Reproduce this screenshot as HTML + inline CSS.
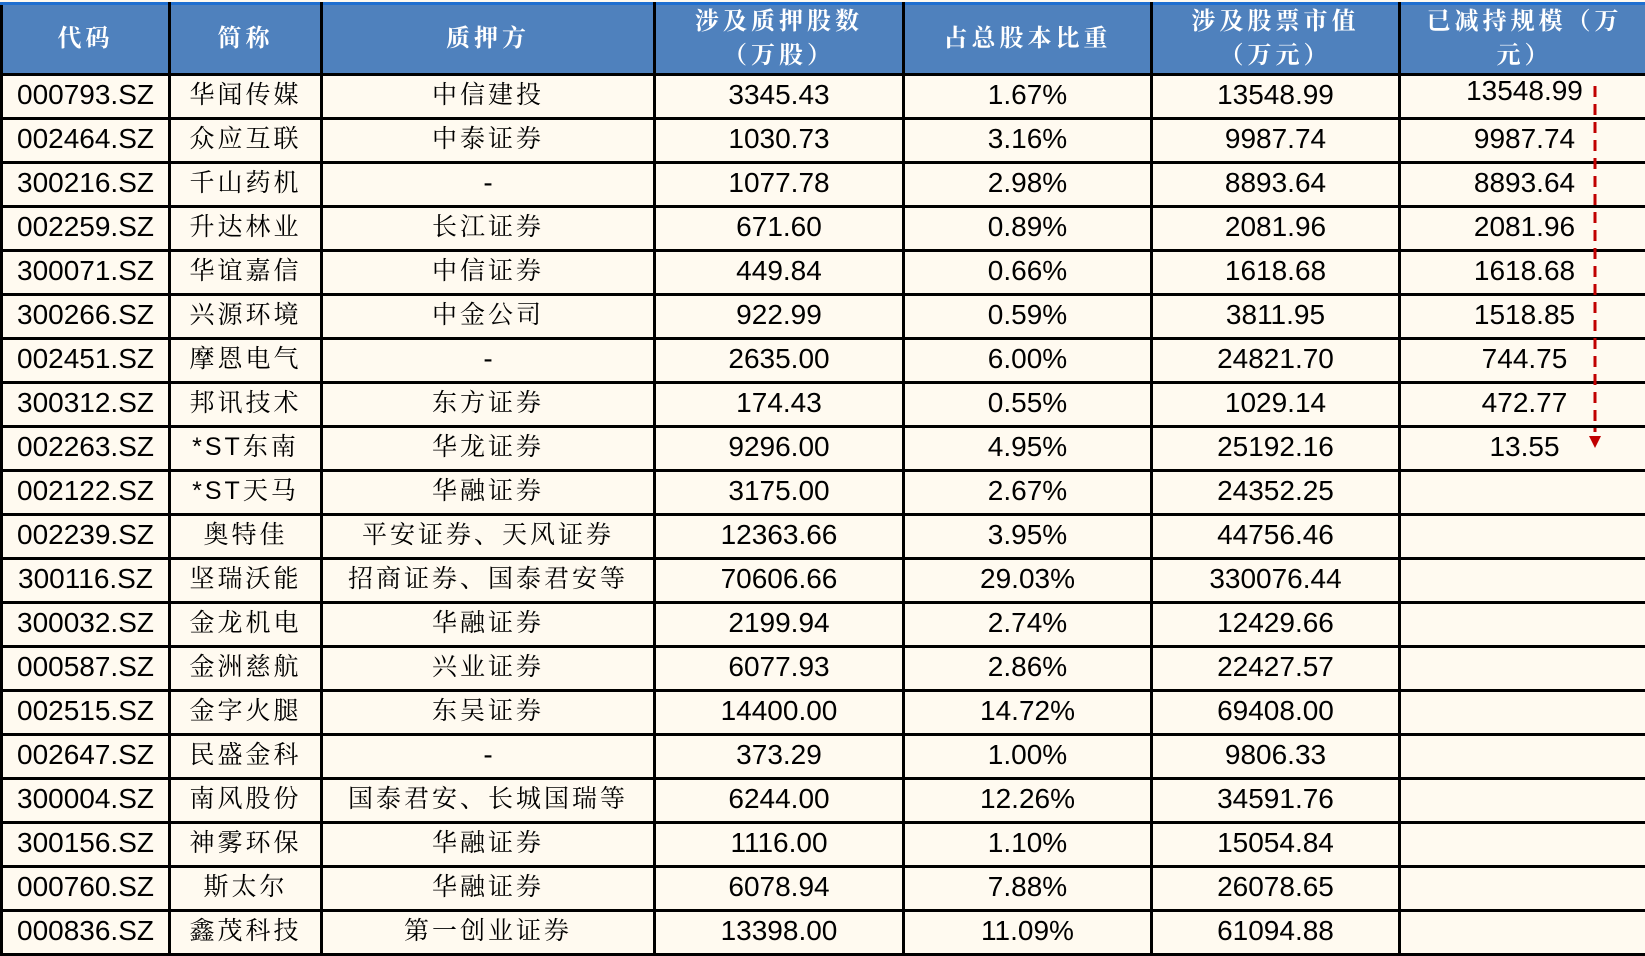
<!DOCTYPE html>
<html><head><meta charset="utf-8"><style>
body{margin:0;width:1645px;height:947px;overflow:hidden;background:#fffaf0;position:relative}
table{position:absolute;left:0;top:2px;border-collapse:collapse;table-layout:fixed;width:1648px}
td,th{border:3px solid #000;text-align:center;padding:0;white-space:nowrap;overflow:hidden}
th{background:#4f81bd;color:#fff;height:63px;font:bold 24px "Liberation Sans","Noto Serif CJK SC",serif;letter-spacing:4px;line-height:34px;border-top:3px solid #1f6fd0}
td{height:37px;padding-bottom:4px;font:28px "Liberation Sans","Noto Serif CJK SC",sans-serif;color:#000;line-height:36px}
td.c{font-family:"Liberation Sans","Noto Serif CJK SC",serif;letter-spacing:3px;font-size:25px}
</style></head><body>
<table>
<colgroup><col style="width:168px"><col style="width:152px"><col style="width:333px"><col style="width:249px"><col style="width:248px"><col style="width:248px"><col style="width:250px"></colgroup>
<tr><th>代码</th><th>简称</th><th>质押方</th><th>涉及质押股数<br>（万股）</th><th>占总股本比重</th><th>涉及股票市值<br>（万元）</th><th>已减持规模（万<br>元）</th></tr>
<tr><td>000793.SZ</td><td class="c">华闻传媒</td><td class="c">中信建投</td><td>3345.43</td><td>1.67%</td><td>13548.99</td><td style="vertical-align:top;line-height:30px">13548.99</td></tr>
<tr><td>002464.SZ</td><td class="c">众应互联</td><td class="c">中泰证券</td><td>1030.73</td><td>3.16%</td><td>9987.74</td><td>9987.74</td></tr>
<tr><td>300216.SZ</td><td class="c">千山药机</td><td>-</td><td>1077.78</td><td>2.98%</td><td>8893.64</td><td>8893.64</td></tr>
<tr><td>002259.SZ</td><td class="c">升达林业</td><td class="c">长江证券</td><td>671.60</td><td>0.89%</td><td>2081.96</td><td>2081.96</td></tr>
<tr><td>300071.SZ</td><td class="c">华谊嘉信</td><td class="c">中信证券</td><td>449.84</td><td>0.66%</td><td>1618.68</td><td>1618.68</td></tr>
<tr><td>300266.SZ</td><td class="c">兴源环境</td><td class="c">中金公司</td><td>922.99</td><td>0.59%</td><td>3811.95</td><td>1518.85</td></tr>
<tr><td>002451.SZ</td><td class="c">摩恩电气</td><td>-</td><td>2635.00</td><td>6.00%</td><td>24821.70</td><td>744.75</td></tr>
<tr><td>300312.SZ</td><td class="c">邦讯技术</td><td class="c">东方证券</td><td>174.43</td><td>0.55%</td><td>1029.14</td><td>472.77</td></tr>
<tr><td>002263.SZ</td><td class="c">*ST东南</td><td class="c">华龙证券</td><td>9296.00</td><td>4.95%</td><td>25192.16</td><td>13.55</td></tr>
<tr><td>002122.SZ</td><td class="c">*ST天马</td><td class="c">华融证券</td><td>3175.00</td><td>2.67%</td><td>24352.25</td><td></td></tr>
<tr><td>002239.SZ</td><td class="c">奥特佳</td><td class="c">平安证券、天风证券</td><td>12363.66</td><td>3.95%</td><td>44756.46</td><td></td></tr>
<tr><td>300116.SZ</td><td class="c">坚瑞沃能</td><td class="c">招商证券、国泰君安等</td><td>70606.66</td><td>29.03%</td><td>330076.44</td><td></td></tr>
<tr><td>300032.SZ</td><td class="c">金龙机电</td><td class="c">华融证券</td><td>2199.94</td><td>2.74%</td><td>12429.66</td><td></td></tr>
<tr><td>000587.SZ</td><td class="c">金洲慈航</td><td class="c">兴业证券</td><td>6077.93</td><td>2.86%</td><td>22427.57</td><td></td></tr>
<tr><td>002515.SZ</td><td class="c">金字火腿</td><td class="c">东吴证券</td><td>14400.00</td><td>14.72%</td><td>69408.00</td><td></td></tr>
<tr><td>002647.SZ</td><td class="c">民盛金科</td><td>-</td><td>373.29</td><td>1.00%</td><td>9806.33</td><td></td></tr>
<tr><td>300004.SZ</td><td class="c">南风股份</td><td class="c">国泰君安、长城国瑞等</td><td>6244.00</td><td>12.26%</td><td>34591.76</td><td></td></tr>
<tr><td>300156.SZ</td><td class="c">神雾环保</td><td class="c">华融证券</td><td>1116.00</td><td>1.10%</td><td>15054.84</td><td></td></tr>
<tr><td>000760.SZ</td><td class="c">斯太尔</td><td class="c">华融证券</td><td>6078.94</td><td>7.88%</td><td>26078.65</td><td></td></tr>
<tr><td>000836.SZ</td><td class="c">鑫茂科技</td><td class="c">第一创业证券</td><td>13398.00</td><td>11.09%</td><td>61094.88</td><td></td></tr>
</table>
<svg style="position:absolute;left:0;top:0" width="1645" height="947">
<line x1="1595" y1="86" x2="1595" y2="432" stroke="#c00000" stroke-width="3" stroke-dasharray="11,7"/>
<polygon points="1589,436 1601,436 1595,448" fill="#c00000"/>
</svg>
</body></html>
